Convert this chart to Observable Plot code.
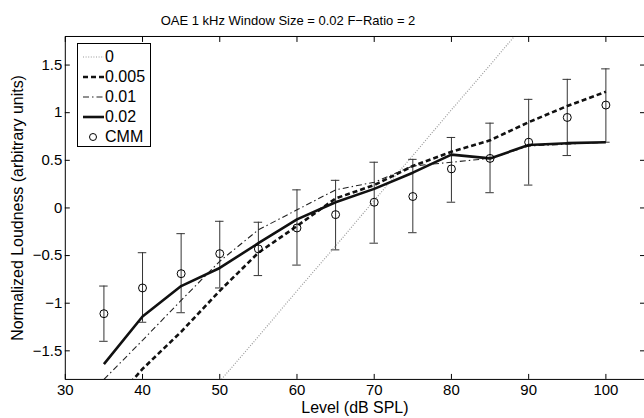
<!DOCTYPE html>
<html><head><meta charset="utf-8">
<script src="https://cdn.jsdelivr.net/npm/d3@7"></script>
<script src="https://cdn.jsdelivr.net/npm/@observablehq/plot@0.6"></script>
<style>
body{margin:0;overflow:hidden;background:#fff;font-family:"Liberation Sans",Arial,sans-serif;}
#wrap{position:relative;width:644px;height:418px;overflow:hidden;}
#title{height:30px;width:576px;text-align:center;font-size:13px;line-height:13px;box-sizing:border-box;}
#title span{position:relative;top:14px;}
#chart svg{display:block;}
#legend{position:absolute;left:77px;top:43px;width:72px;height:102px;border:1px solid #000;background:#fff;font-size:16px;}
#legend .row{position:absolute;left:0;height:20px;width:72px;}
#legend svg{position:absolute;left:3px;top:0;}
#legend .lab{position:absolute;left:27px;top:1px;line-height:18px;}
</style></head>
<body>
<div id="wrap">
<div id="title"><span>OAE 1 kHz Window Size = 0.02 F&#8722;Ratio = 2</span></div>
<div id="chart"></div>
<div id="legend"></div>
</div>
<script>
const levels = [35,40,45,50,55,60,65,70,75,80,85,90,95,100];
const win0    = [-3.25,-2.77,-2.30,-1.82,-1.35,-0.87,-0.40,0.08,0.55,1.03,1.50,1.98,2.45,2.93];
const win005  = [-2.15,-1.69,-1.30,-0.87,-0.47,-0.19,0.10,0.24,0.44,0.59,0.71,0.90,1.07,1.22];
const win01   = [-1.80,-1.39,-0.97,-0.56,-0.23,-0.02,0.19,0.27,0.44,0.48,0.52,0.65,0.67,0.69];
const win02   = [-1.64,-1.14,-0.82,-0.63,-0.37,-0.12,0.06,0.20,0.37,0.56,0.52,0.66,0.68,0.69];
const cmmMean = [-1.11,-0.84,-0.69,-0.48,-0.43,-0.21,-0.07,0.06,0.12,0.41,0.52,0.69,0.95,1.08];
const cmmHigh = [-0.82,-0.47,-0.27,-0.14,-0.15,0.19,0.29,0.48,0.51,0.74,0.89,1.14,1.35,1.46];
const cmmLow  = [-1.40,-1.20,-1.10,-0.84,-0.71,-0.60,-0.44,-0.37,-0.26,0.06,0.16,0.24,0.55,0.69];
const xTicks = [30,40,50,60,70,80,90,100];
const yTicks = [-1.5,-1,-0.5,0,0.5,1,1.5];
const seriesNames = ["0","0.005","0.01","0.02"];
const xLabel = "Level (dB SPL)";
const yLabel = "Normalized Loudness (arbitrary units)";

const seriesVals = [win0, win005, win01, win02];
const styles = {
  "0":     {stroke:"#9a9a9a", strokeWidth:1.2, dash:"1,1.6"},
  "0.005": {stroke:"#111", strokeWidth:2.6, dash:"5,3"},
  "0.01":  {stroke:"#222", strokeWidth:1.1, dash:"6,3,1.5,3"},
  "0.02":  {stroke:"#111", strokeWidth:2.6, dash:null}
};
const cmm = levels.map((l,i)=>({level:l, mean:cmmMean[i], hi:cmmHigh[i], lo:cmmLow[i]}));

const lineMarks = seriesNames.map((name,k)=>{
  const data = levels.map((l,i)=>({level:l, v:seriesVals[k][i]}));
  const s = styles[name];
  return Plot.line(data, {x:"level", y:"v", stroke:s.stroke, strokeWidth:s.strokeWidth,
    strokeDasharray:s.dash||undefined, clip:true, strokeLinejoin:"miter", strokeLinecap: "butt"});
});

const fontSize = 16;
const tickFont = 15;
const plot = Plot.plot({
  width: 646, height: 388,
  marginLeft: 65, marginRight: 0, marginTop: 6, marginBottom: 38,
  style: {fontFamily: '"Liberation Sans", Arial, sans-serif', fontSize: fontSize+"px", color:"#000", background:"#fff", overflow:"visible"},
  x: {domain:[30,105]},
  y: {domain:[-1.8,1.8]},
  marks: [
    Plot.ruleX(cmm, {x:"level", y1:"lo", y2:"hi", stroke:"#333", strokeWidth:1}),
    Plot.ruleY(cmm, {y:"hi", x1:d=>d.level-0.55, x2:d=>d.level+0.55, stroke:"#333", strokeWidth:1}),
    Plot.ruleY(cmm, {y:"lo", x1:d=>d.level-0.55, x2:d=>d.level+0.55, stroke:"#333", strokeWidth:1}),
    ...lineMarks,
    Plot.dot(cmm, {x:"level", y:"mean", r:4, stroke:"#000", strokeWidth:1, fill:"none"}),
    Plot.axisX({ticks:xTicks, tickSize:0, tickPadding:5, label:null, fontSize:tickFont}),
    Plot.axisX({ticks:xTicks, tickSize:-5, tickFormat:()=>"", label:null}),
    Plot.axisX({anchor:"top", ticks:xTicks, tickSize:-5, tickFormat:()=>"", label:null}),
    Plot.axisY({ticks:yTicks, tickSize:0, tickPadding:3, label:null, fontSize:tickFont, tickFormat:d=>d<0?"\u2212"+Math.abs(d):String(d)}),
    Plot.axisY({ticks:yTicks, tickSize:-5, tickFormat:()=>"", label:null}),
    Plot.axisY({anchor:"right", ticks:yTicks, tickSize:-5, tickFormat:()=>"", label:null}),
    Plot.frame({stroke:"#000", strokeWidth:1}),
    Plot.text([xLabel], {frameAnchor:"bottom", dy:29, fontSize:fontSize, textAnchor:"middle", lineAnchor:"middle", text:d=>d}),
    Plot.text([yLabel], {frameAnchor:"left", dx:-48, rotate:-90, fontSize:fontSize, textAnchor:"middle", lineAnchor:"middle", text:d=>d})
  ]
});
document.getElementById("chart").appendChild(plot);

// legend
const leg = document.getElementById("legend");
const rows = [...seriesNames, "CMM"];
rows.forEach((name,i)=>{
  const row = document.createElement("div");
  row.className = "row";
  row.style.top = (3 + i*20) + "px";
  const ns = "http://www.w3.org/2000/svg";
  const svg = document.createElementNS(ns,"svg");
  svg.setAttribute("width","24"); svg.setAttribute("height","20");
  if (name === "CMM") {
    const c = document.createElementNS(ns,"circle");
    c.setAttribute("cx","12"); c.setAttribute("cy","10"); c.setAttribute("r","3.5");
    c.setAttribute("fill","none"); c.setAttribute("stroke","#000");
    svg.appendChild(c);
  } else {
    const s = styles[name];
    const ln = document.createElementNS(ns,"line");
    ln.setAttribute("x1","2"); ln.setAttribute("x2","23");
    ln.setAttribute("y1","10"); ln.setAttribute("y2","10");
    ln.setAttribute("stroke", s.stroke); ln.setAttribute("stroke-width", s.strokeWidth);
    if (s.dash) ln.setAttribute("stroke-dasharray", s.dash);
    svg.appendChild(ln);
  }
  row.appendChild(svg);
  const lab = document.createElement("span");
  lab.className = "lab"; lab.textContent = name;
  row.appendChild(lab);
  leg.appendChild(row);
});
</script>
</body></html>
